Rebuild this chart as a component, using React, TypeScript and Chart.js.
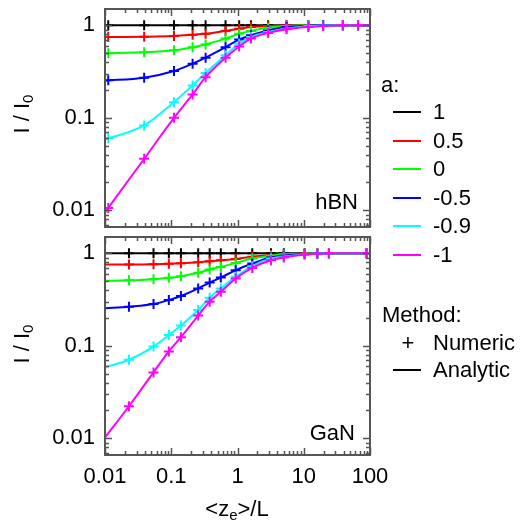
import React, { useEffect, useRef } from 'react';
import { Chart, registerables } from 'chart.js';

Chart.register(...registerables);

const A_LABELS = ['1', '0.5', '0', '-0.5', '-0.9', '-1'];
const COLORS = ['#000000', '#ff0000', '#00ff00', '#0000ff', '#00ffff', '#ff00ff'];
const X_TICKS = [0.01, 0.1, 1, 10, 100];
const Y_TICKS = [0.01, 0.1, 1];

// hBN panel (numeric markers; analytic line starts at x=0.01)
const HBN_X = [0.0112, 0.039, 0.11, 0.21, 0.33, 0.66, 1.06, 1.6, 2.9, 5.5, 11.7, 19.6, 39, 66, 100];
const HBN_START = [1, 0.745, 0.5, 0.253, 0.059, 0.0095];
const HBN_A1 = [1, 1, 1, 1, 1, 1, 1, 1, 1, 1, 1, 1, 1, 1, 1];
const HBN_A05 = [0.746, 0.752, 0.766, 0.79, 0.81, 0.87, 0.92, 0.96, 0.98, 0.995, 1, 1, 1, 1, 1];
const HBN_A0 = [0.5, 0.51, 0.536, 0.58, 0.62, 0.72, 0.81, 0.87, 0.94, 0.98, 1, 1, 1, 1, 1];
const HBN_AM05 = [0.254, 0.271, 0.32, 0.385, 0.447, 0.58, 0.7, 0.78, 0.88, 0.96, 0.99, 1, 1, 1, 1];
const HBN_AM09 = [0.06, 0.0826, 0.1476, 0.224, 0.305, 0.473, 0.633, 0.748, 0.847, 0.92, 0.975, 0.99, 1, 1, 1];
const HBN_AM1 = [0.0106, 0.036, 0.1, 0.179, 0.275, 0.447, 0.59, 0.72, 0.826, 0.905, 0.96, 0.985, 1, 1, 1];

// GaN panel
const GAN_X = [0.023, 0.054, 0.092, 0.14, 0.255, 0.38, 0.56, 0.94, 1.67, 3.2, 5.0, 10.3, 16, 24, 89];
const GAN_START = [1, 0.755, 0.504, 0.254, 0.0585, 0.0102];
const GAN_A1 = [1, 1, 1, 1, 1, 1, 1, 1, 1, 1, 1, 1, 1, 1, 1];
const GAN_A05 = [0.755, 0.76, 0.77, 0.78, 0.8, 0.82, 0.84, 0.87, 0.92, 0.96, 0.975, 0.99, 1, 1, 1];
const GAN_A0 = [0.51, 0.525, 0.543, 0.566, 0.615, 0.667, 0.713, 0.787, 0.877, 0.94, 0.97, 0.99, 1, 1, 1];
const GAN_AM05 = [0.265, 0.283, 0.312, 0.345, 0.417, 0.483, 0.547, 0.656, 0.775, 0.9, 0.94, 0.98, 0.99, 1, 1];
const GAN_AM09 = [0.0707, 0.098, 0.131, 0.166, 0.244, 0.33, 0.417, 0.556, 0.725, 0.877, 0.92, 0.97, 0.99, 1, 1];
const GAN_AM1 = [0.0222, 0.0516, 0.087, 0.124, 0.212, 0.3, 0.384, 0.534, 0.695, 0.84, 0.9, 0.97, 0.99, 1, 1];

const FONT = "'Liberation Sans', Arial, sans-serif";
const W = 522;
const H = 525;
const LEFT = 105;
const RIGHT = 370;
const TOP_SHIFT = 40; // top canvas is shifted up so label overflow never squeezes the plot area

const framePlugin = {
  id: 'frame',
  afterDatasetsDraw(chart: any) {
    const { ctx, chartArea } = chart;
    const xs = chart.scales.x;
    const ys = chart.scales.y;
    const { left, right, top, bottom } = chartArea;
    ctx.save();
    ctx.strokeStyle = '#555555';
    ctx.lineWidth = 1.5;
    ctx.beginPath();
    for (let d = -3; d <= 2; d++) {
      for (let m = 1; m <= 9; m++) {
        const v = m * Math.pow(10, d);
        const len = m === 1 ? 7 : 4;
        if (v >= xs.min - 1e-9 && v <= xs.max + 1e-9) {
          const px = Math.round(xs.getPixelForValue(v)) + 0.5;
          ctx.moveTo(px, bottom);
          ctx.lineTo(px, bottom - len);
          ctx.moveTo(px, top);
          ctx.lineTo(px, top + len);
        }
        if (v >= ys.min && v <= ys.max) {
          const py = Math.round(ys.getPixelForValue(v)) + 0.5;
          ctx.moveTo(left, py);
          ctx.lineTo(left + len, py);
          ctx.moveTo(right, py);
          ctx.lineTo(right - len, py);
        }
      }
    }
    ctx.stroke();
    ctx.lineWidth = 2;
    ctx.strokeRect(left, top, right - left, bottom - top);
    ctx.restore();
  },
};

function buildDatasets(markX: number[], start: number[], series: number[][]) {
  const ds: any[] = [];
  series.forEach((vals, i) => {
    const lineData = [{ x: 0.01, y: start[i] }, ...markX.map((x, j) => ({ x, y: vals[j] }))];
    ds.push({
      type: 'line',
      label: 'a=' + A_LABELS[i] + ' analytic',
      data: lineData,
      borderColor: COLORS[i],
      backgroundColor: COLORS[i],
      borderWidth: 2,
      pointRadius: 0,
      cubicInterpolationMode: 'monotone',
      fill: false,
      order: 2 * (6 - i) + 1,
    });
    ds.push({
      type: 'line',
      label: 'a=' + A_LABELS[i] + ' numeric',
      data: markX.map((x, j) => ({ x, y: vals[j] })),
      showLine: false,
      borderColor: COLORS[i],
      backgroundColor: COLORS[i],
      pointStyle: 'cross',
      pointRadius: 5,
      pointBorderWidth: 2,
      order: 2 * (6 - i),
    });
  });
  return ds;
}

function makeConfig(isTop: boolean, markX: number[], start: number[], series: number[][]): any {
  const tickFont = { family: FONT, size: 22 };
  return {
    type: 'line',
    data: { datasets: buildDatasets(markX, start, series) },
    plugins: [framePlugin],
    options: {
      animation: false,
      responsive: false,
      maintainAspectRatio: false,
      events: [],
      layout: {
        padding: {
          left: 0,
          right: W - RIGHT,
          top: isTop ? 9 + TOP_SHIFT : 237,
          bottom: isTop ? H - 227 : 0,
        },
      },
      plugins: { legend: { display: false }, tooltip: { enabled: false }, title: { display: false } },
      scales: {
        x: {
          type: 'logarithmic',
          min: 0.01,
          max: 100,
          display: !isTop,
          grid: { display: false, drawTicks: false },
          border: { display: false },
          afterBuildTicks: (s: any) => {
            s.ticks = X_TICKS.map((v) => ({ value: v }));
          },
          afterFit: (s: any) => {
            s.height = isTop ? 0 : H - 455;
          },
          ticks: {
            callback: (v: any) => String(v),
            font: tickFont,
            color: '#000',
            padding: 9,
            maxRotation: 0,
            autoSkip: false,
          },
        },
        y: {
          type: 'logarithmic',
          min: 0.0066,
          max: 1.5,
          grid: { display: false, drawTicks: false },
          border: { display: false },
          afterBuildTicks: (s: any) => {
            s.ticks = Y_TICKS.map((v) => ({ value: v }));
          },
          afterFit: (s: any) => {
            s.width = LEFT;
          },
          ticks: {
            callback: (v: any) => String(v),
            font: tickFont,
            color: '#000',
            padding: 10,
            autoSkip: false,
          },
        },
      },
    },
  };
}

const textBase: React.CSSProperties = {
  position: 'absolute',
  fontFamily: FONT,
  fontSize: 22,
  lineHeight: 1,
  color: '#000',
  whiteSpace: 'nowrap',
};

export default function App() {
  const topRef = useRef<HTMLCanvasElement>(null);
  const botRef = useRef<HTMLCanvasElement>(null);

  useEffect(() => {
    const c1 = new Chart(
      topRef.current as HTMLCanvasElement,
      makeConfig(true, HBN_X, HBN_START, [HBN_A1, HBN_A05, HBN_A0, HBN_AM05, HBN_AM09, HBN_AM1])
    );
    const c2 = new Chart(
      botRef.current as HTMLCanvasElement,
      makeConfig(false, GAN_X, GAN_START, [GAN_A1, GAN_A05, GAN_A0, GAN_AM05, GAN_AM09, GAN_AM1])
    );
    return () => {
      c1.destroy();
      c2.destroy();
    };
  }, []);

  const rowY = [112, 140.6, 169.2, 197.8, 226.4, 255];

  return (
    <div style={{ position: 'fixed', left: 0, top: 0, width: W, height: H, background: '#fff', overflow: 'hidden' }}>
      <canvas ref={botRef} width={W} height={H} style={{ position: 'absolute', left: 0, top: 0, width: W, height: H }} />
      <canvas
        ref={topRef}
        width={W}
        height={H + TOP_SHIFT}
        style={{ position: 'absolute', left: 0, top: -TOP_SHIFT, width: W, height: H + TOP_SHIFT }}
      />

      {/* y titles */}
      {[114, 344].map((cy) => (
        <div
          key={cy}
          style={{
            ...textBase,
            left: 23,
            top: cy,
            transform: 'translate(-50%, -50%) rotate(-90deg)',
          }}
        >
          I / I<sub style={{ fontSize: 15, verticalAlign: '-0.25em' }}>0</sub>
        </div>
      ))}

      {/* x title */}
      <div style={{ ...textBase, left: 237, top: 510, transform: 'translate(-50%, -50%)' }}>
        &lt;z<sub style={{ fontSize: 15, verticalAlign: '-0.3em' }}>e</sub>&gt;/L
      </div>

      {/* panel labels */}
      <div style={{ ...textBase, right: W - 358, top: 202 - 11 }}>hBN</div>
      <div style={{ ...textBase, right: W - 355, top: 433 - 11 }}>GaN</div>

      {/* legend */}
      <div style={{ ...textBase, left: 381, top: 85 - 11 }}>a:</div>
      {A_LABELS.map((lab, i) => (
        <React.Fragment key={lab}>
          <div style={{ position: 'absolute', left: 393, top: rowY[i] - 1, width: 28, height: 2, background: COLORS[i] }} />
          <div style={{ ...textBase, left: 433, top: rowY[i] - 11 }}>{lab}</div>
        </React.Fragment>
      ))}
      <div style={{ ...textBase, left: 382, top: 315 - 11 }}>Method:</div>
      <div style={{ ...textBase, left: 408, top: 343 - 11, transform: 'translateX(-50%)' }}>+</div>
      <div style={{ ...textBase, left: 433, top: 343 - 11 }}>Numeric</div>
      <div style={{ position: 'absolute', left: 393, top: 370 - 1, width: 28, height: 2, background: '#000' }} />
      <div style={{ ...textBase, left: 433, top: 370 - 11 }}>Analytic</div>
    </div>
  );
}
